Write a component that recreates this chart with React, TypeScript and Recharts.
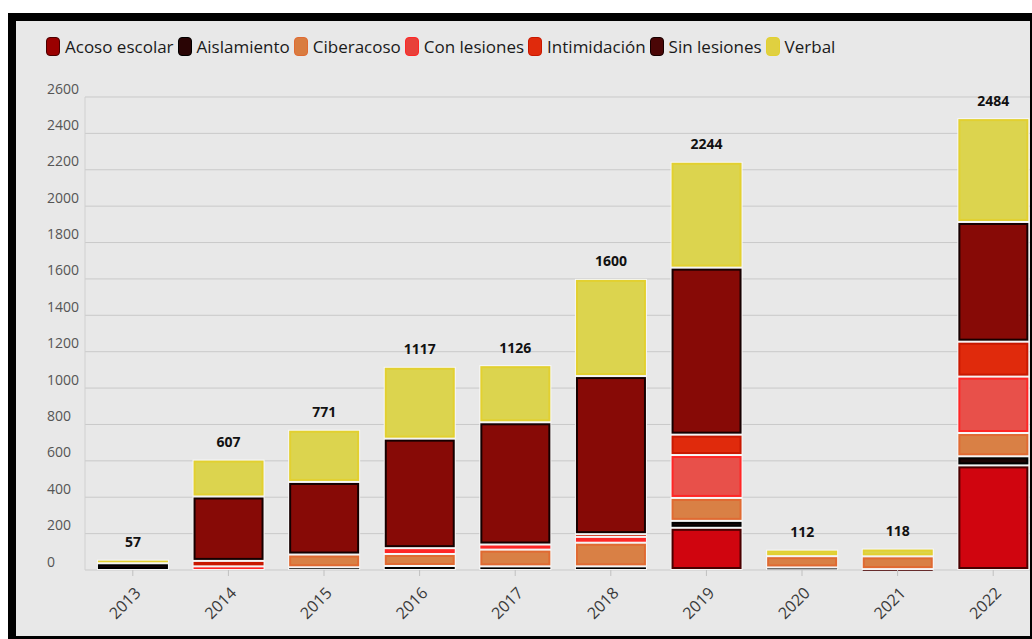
import { BarChart, Bar, XAxis, YAxis, CartesianGrid, LabelList } from 'recharts'

const years = ['2013', '2014', '2015', '2016', '2017', '2018', '2019', '2020', '2021', '2022']
const totals = [57, 607, 771, 1117, 1126, 1600, 2244, 112, 118, 2484]

const acosoEscolar = [0, 0, 0, 0, 0, 0, 232, 0, 5, 575]
const aislamiento = [37, 0, 15, 22, 20, 20, 38, 14, 0, 50]
const ciberacoso = [0, 0, 70, 66, 92, 130, 126, 62, 70, 128]
const conLesiones = [0, 20, 0, 32, 28, 32, 236, 0, 0, 310]
const intimidacion = [0, 30, 0, 0, 0, 15, 112, 0, 0, 192]
const sinLesiones = [0, 354, 399, 602, 672, 869, 918, 0, 0, 658]
const verbal = [20, 203, 287, 395, 314, 534, 582, 36, 43, 571]

const yTicks = [0, 200, 400, 600, 800, 1000, 1200, 1400, 1600, 1800, 2000, 2200, 2400, 2600]

const series = [
  { key: 'acoso', name: 'Acoso escolar', fill: '#d0050f', edge: '#4a0000', icon: '#9a0000' },
  { key: 'aislamiento', name: 'Aislamiento', fill: '#1c0404', edge: '#000000', icon: '#2a0505' },
  { key: 'ciberacoso', name: 'Ciberacoso', fill: '#d98045', edge: '#e06a32', icon: '#d97c40' },
  { key: 'conLesiones', name: 'Con lesiones', fill: '#e8504a', edge: '#ff2626', icon: '#e8403a' },
  { key: 'intimidacion', name: 'Intimidación', fill: '#e02a0c', edge: '#c81800', icon: '#e02a0c' },
  { key: 'sinLesiones', name: 'Sin lesiones', fill: '#870a06', edge: '#160000', icon: '#4a0606' },
  { key: 'verbal', name: 'Verbal', fill: '#dcd44e', edge: '#e2d030', icon: '#e0d040' },
]

const data = years.map((year, i) => ({
  year,
  total: totals[i],
  acoso: acosoEscolar[i],
  aislamiento: aislamiento[i],
  ciberacoso: ciberacoso[i],
  conLesiones: conLesiones[i],
  intimidacion: intimidacion[i],
  sinLesiones: sinLesiones[i],
  verbal: verbal[i],
}))

const FONT = '"Open Sans", "Noto Sans", sans-serif'

function Segment(props: any) {
  const { x, y, width, height, fill, edge } = props
  if (!height || height <= 0) return <g />
  const inner = height - 4
  return (
    <g>
      <rect x={x} y={y} width={width} height={height} fill="#f7f7f7" />
      {inner > 0 ? (
        <rect x={x + 2} y={y + 2} width={width - 4} height={inner} fill={fill} stroke={edge} strokeWidth={2} />
      ) : (
        <rect x={x + 1} y={y + 1} width={width - 2} height={Math.max(height - 2, 0.8)} fill={edge} />
      )}
    </g>
  )
}

const XTick = ({ x, y, payload }: any) => {
  const ax = x + 9
  const ay = y + 16
  return (
    <text x={ax} y={ay} transform={`rotate(-45 ${ax} ${ay})`} textAnchor="end"
      fontSize={16} fill="#3a3a3a" fontFamily={FONT}>
      {payload.value}
    </text>
  )
}

const YTick = ({ y, payload }: any) => (
  <text x={47} y={y - 9} dominantBaseline="central" textAnchor="start"
    fontSize={14} fill="#555" fontFamily={FONT}>
    {payload.value}
  </text>
)

const TotalLabel = (props: any) => {
  const { x, y, width, value } = props
  return (
    <text x={x + width / 2} y={y - 18} textAnchor="middle" dominantBaseline="central"
      fontSize={14} fontWeight="bold" fill="#111" fontFamily={FONT}>
      {value}
    </text>
  )
}

export default function App() {
  return (
    <div style={{ position: 'absolute', left: 0, top: 0, width: 1032, height: 639, background: '#fff', overflow: 'hidden' }}>
      <div style={{ position: 'absolute', left: 8, top: 13, width: 1024, height: 626, background: '#000' }}>
        <div style={{ position: 'absolute', left: 8, top: 8, width: 1014, height: 615, background: '#e8e8e8', overflow: 'hidden' }}>
          <div style={{ position: 'absolute', left: -16, top: -21 }}>
            <div style={{
              position: 'absolute', left: 46, top: 35, display: 'flex', gap: 4, alignItems: 'center',
              fontFamily: FONT, fontSize: 17, color: '#1a1a1a', whiteSpace: 'nowrap',
            }}>
              {series.map(s => (
                <div key={s.key} style={{ display: 'flex', alignItems: 'center', gap: 5 }}>
                  <span style={{
                    display: 'inline-block', width: 14, height: 19, borderRadius: 4,
                    background: s.icon, border: `1.5px solid ${s.edge}`, boxSizing: 'border-box',
                  }} />
                  <span>{s.name}</span>
                </div>
              ))}
            </div>
            <BarChart width={1060} height={639} data={data} barCategoryGap="12.5%"
              margin={{ top: 97, right: 19, bottom: 39, left: 47 }}>
              <CartesianGrid vertical={false} stroke="#c9c9c9" />
              <XAxis dataKey="year" height={30} axisLine={false} tickLine={{ stroke: '#c0c0c0' }} tickSize={6}
                tick={<XTick />} interval={0} />
              <YAxis width={38} domain={[0, 2600]} ticks={yTicks} tick={<YTick />} tickLine={false}
                axisLine={{ stroke: '#d0d0d0' }} interval={0} />
              {series.map(s => (
                <Bar key={s.key} dataKey={s.key} name={s.name} stackId="a" fill={s.fill}
                  isAnimationActive={false}
                  shape={(p: any) => <Segment {...p} fill={s.fill} edge={s.edge} />}>
                  {s.key === 'verbal' && <LabelList dataKey="total" content={<TotalLabel />} />}
                </Bar>
              ))}
            </BarChart>
          </div>
        </div>
      </div>
    </div>
  )
}
